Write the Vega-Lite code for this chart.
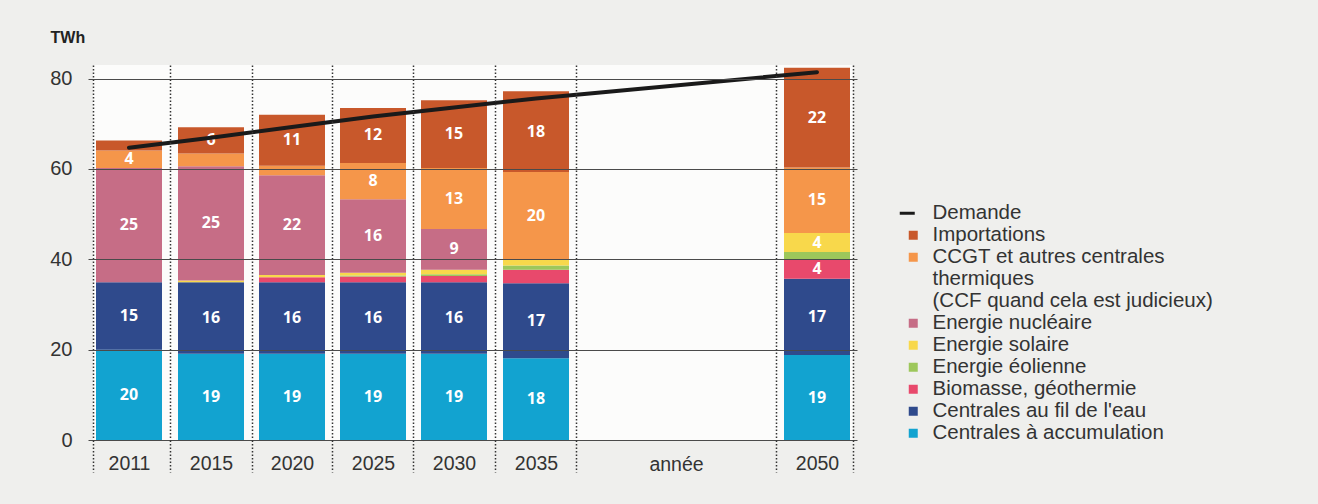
{
  "$schema": "https://vega.github.io/schema/vega-lite/v6.json",
  "width": 795,
  "height": 375,
  "autosize": {"type": "none"},
  "padding": {"left": 76, "top": 65, "right": 447, "bottom": 64},
  "background": "#efefed",
  "config": {
    "view": {"fill": null, "stroke": null},
    "font": "Liberation Sans",
    "axisY": {
      "grid": true,
      "gridColor": "#4a4a4a",
      "gridWidth": 1,
      "domain": false,
      "ticks": false,
      "tickSize": 0,
      "labelFontSize": 20,
      "labelColor": "#333333",
      "labelPadding": 4,
      "labelFont": "Liberation Sans",
      "titleAngle": 0,
      "titleAlign": "left",
      "titleBaseline": "alphabetic",
      "titleX": -26,
      "titleY": -23,
      "titleFont": "Liberation Sans",
      "titleFontSize": 16,
      "titleFontWeight": "bold",
      "titleColor": "#222222"
    }
  },
  "datasets": {
    "frame": [{"from": 2009, "to": 2052.5, "bottom": 0, "top": 83}],
    "mix": [
      {"year": 2011, "source": "Centrales à accumulation", "rank": 1, "value": 20.0, "label": "20"},
      {"year": 2011, "source": "Centrales au fil de l'eau", "rank": 2, "value": 14.9, "label": "15"},
      {"year": 2011, "source": "Energie nucléaire", "rank": 6, "value": 25.3, "label": "25"},
      {"year": 2011, "source": "CCGT et autres centrales thermiques", "rank": 7, "value": 3.9, "label": "4"},
      {"year": 2011, "source": "Importations", "rank": 8, "value": 2.2, "label": ""},
      {"year": 2015, "source": "Centrales à accumulation", "rank": 1, "value": 19.1, "label": "19"},
      {"year": 2015, "source": "Centrales au fil de l'eau", "rank": 2, "value": 15.8, "label": "16"},
      {"year": 2015, "source": "Energie solaire", "rank": 5, "value": 0.4, "label": ""},
      {"year": 2015, "source": "Energie nucléaire", "rank": 6, "value": 25.3, "label": "25"},
      {"year": 2015, "source": "CCGT et autres centrales thermiques", "rank": 7, "value": 2.8, "label": ""},
      {"year": 2015, "source": "Importations", "rank": 8, "value": 5.8, "label": "6"},
      {"year": 2020, "source": "Centrales à accumulation", "rank": 1, "value": 19.1, "label": "19"},
      {"year": 2020, "source": "Centrales au fil de l'eau", "rank": 2, "value": 15.8, "label": "16"},
      {"year": 2020, "source": "Biomasse, géothermie", "rank": 3, "value": 1.1, "label": ""},
      {"year": 2020, "source": "Energie solaire", "rank": 5, "value": 0.5, "label": ""},
      {"year": 2020, "source": "Energie nucléaire", "rank": 6, "value": 22.1, "label": "22"},
      {"year": 2020, "source": "CCGT et autres centrales thermiques", "rank": 7, "value": 2.1, "label": ""},
      {"year": 2020, "source": "Importations", "rank": 8, "value": 11.3, "label": "11"},
      {"year": 2025, "source": "Centrales à accumulation", "rank": 1, "value": 19.1, "label": "19"},
      {"year": 2025, "source": "Centrales au fil de l'eau", "rank": 2, "value": 15.8, "label": "16"},
      {"year": 2025, "source": "Biomasse, géothermie", "rank": 3, "value": 1.3, "label": ""},
      {"year": 2025, "source": "Energie éolienne", "rank": 4, "value": 0.2, "label": ""},
      {"year": 2025, "source": "Energie solaire", "rank": 5, "value": 0.6, "label": ""},
      {"year": 2025, "source": "Energie nucléaire", "rank": 6, "value": 16.3, "label": "16"},
      {"year": 2025, "source": "CCGT et autres centrales thermiques", "rank": 7, "value": 8.0, "label": "8"},
      {"year": 2025, "source": "Importations", "rank": 8, "value": 12.2, "label": "12"},
      {"year": 2030, "source": "Centrales à accumulation", "rank": 1, "value": 19.1, "label": "19"},
      {"year": 2030, "source": "Centrales au fil de l'eau", "rank": 2, "value": 15.8, "label": "16"},
      {"year": 2030, "source": "Biomasse, géothermie", "rank": 3, "value": 1.4, "label": ""},
      {"year": 2030, "source": "Energie éolienne", "rank": 4, "value": 0.4, "label": ""},
      {"year": 2030, "source": "Energie solaire", "rank": 5, "value": 1.0, "label": ""},
      {"year": 2030, "source": "Energie nucléaire", "rank": 6, "value": 9.0, "label": "9"},
      {"year": 2030, "source": "CCGT et autres centrales thermiques", "rank": 7, "value": 13.5, "label": "13"},
      {"year": 2030, "source": "Importations", "rank": 8, "value": 15.0, "label": "15"},
      {"year": 2035, "source": "Centrales à accumulation", "rank": 1, "value": 18.1, "label": "18"},
      {"year": 2035, "source": "Centrales au fil de l'eau", "rank": 2, "value": 16.6, "label": "17"},
      {"year": 2035, "source": "Biomasse, géothermie", "rank": 3, "value": 3.0, "label": ""},
      {"year": 2035, "source": "Energie éolienne", "rank": 4, "value": 0.9, "label": ""},
      {"year": 2035, "source": "Energie solaire", "rank": 5, "value": 1.3, "label": ""},
      {"year": 2035, "source": "CCGT et autres centrales thermiques", "rank": 7, "value": 19.4, "label": "20"},
      {"year": 2035, "source": "Importations", "rank": 8, "value": 17.9, "label": "18"},
      {"year": 2050, "source": "Centrales à accumulation", "rank": 1, "value": 18.8, "label": "19"},
      {"year": 2050, "source": "Centrales au fil de l'eau", "rank": 2, "value": 16.9, "label": "17"},
      {"year": 2050, "source": "Biomasse, géothermie", "rank": 3, "value": 4.3, "label": "4"},
      {"year": 2050, "source": "Energie éolienne", "rank": 4, "value": 1.6, "label": ""},
      {"year": 2050, "source": "Energie solaire", "rank": 5, "value": 4.2, "label": "4"},
      {"year": 2050, "source": "CCGT et autres centrales thermiques", "rank": 7, "value": 14.5, "label": "15"},
      {"year": 2050, "source": "Importations", "rank": 8, "value": 22.1, "label": "22"}
    ],
    "demand": [
      {"year": 2011, "demand": 64.7, "series": "Demande"},
      {"year": 2015, "demand": 66.9, "series": "Demande"},
      {"year": 2020, "demand": 69.3, "series": "Demande"},
      {"year": 2025, "demand": 71.6, "series": "Demande"},
      {"year": 2030, "demand": 73.6, "series": "Demande"},
      {"year": 2035, "demand": 75.6, "series": "Demande"},
      {"year": 2050, "demand": 81.4, "series": "Demande"}
    ]
  },
  "layer": [
    {
      "data": {"name": "frame"},
      "mark": {"type": "rect", "fill": "#fcfcfb"},
      "encoding": {
        "x": {"field": "from", "type": "quantitative", "axis": null},
        "x2": {"field": "to"},
        "y": {"field": "bottom", "type": "quantitative"},
        "y2": {"field": "top"}
      }
    },
    {
      "data": {"name": "mix"},
      "mark": {"type": "bar", "width": 66},
      "encoding": {
        "x": {
          "field": "year",
          "type": "quantitative",
          "scale": {
            "domain": [2009, 2011, 2013, 2015, 2017.5, 2020, 2022.5, 2025, 2027.5, 2030, 2032.5, 2035, 2037.5, 2047.5, 2050, 2052.5],
            "range": [12, 53, 94, 135, 176, 216, 256, 297, 337, 378, 419, 460, 500, 700, 741, 781],
            "nice": false,
            "zero": false
          },
          "axis": {
            "orient": "bottom",
            "values": [2011, 2015, 2020, 2025, 2030, 2035, 2050],
            "format": "d",
            "grid": false,
            "ticks": false,
            "tickSize": 0,
            "domain": false,
            "labelFontSize": 19.5,
            "labelColor": "#333333",
            "labelPadding": 14,
            "labelFont": "Liberation Sans",
            "title": "année",
            "titleFont": "Liberation Sans",
            "titleFontSize": 19.5,
            "titleFontWeight": "normal",
            "titleColor": "#333333",
            "titleX": 600,
            "titleY": 30,
            "titleBaseline": "alphabetic",
            "titleAlign": "center"
          }
        },
        "y": {
          "field": "value",
          "type": "quantitative",
          "stack": "zero",
          "scale": {"domain": [0, 83], "nice": false},
          "axis": {
            "orient": "left",
            "values": [0, 20, 40, 60, 80],
            "zindex": 1,
            "title": "TWh"
          }
        },
        "fill": {
          "field": "source",
          "type": "nominal",
          "scale": {
            "domain": ["Importations", "CCGT et autres centrales thermiques", "Energie nucléaire", "Energie solaire", "Energie éolienne", "Biomasse, géothermie", "Centrales au fil de l'eau", "Centrales à accumulation"],
            "range": ["#c8582b", "#f5964a", "#c66d86", "#f8d84b", "#9dc75b", "#e8496c", "#2f4a8c", "#12a3d0"]
          },
          "legend": {
            "orient": "none",
            "legendX": 827,
            "legendY": 160,
            "title": null,
            "padding": 0,
            "symbolType": "square",
            "symbolSize": 81,
            "symbolStrokeWidth": 0,
            "labelOffset": 9,
            "labelFontSize": 20.5,
            "labelFont": "Liberation Sans",
            "labelColor": "#333333",
            "labelLimit": 400,
            "rowPadding": 1,
            "labelExpr": "datum.label == 'CCGT et autres centrales thermiques' ? ['CCGT et autres centrales', 'thermiques', '(CCF quand cela est judicieux)'] : datum.label",
            "encode": {"labels": {"update": {"lineHeight": {"value": 22}}}}
          }
        },
        "order": {"field": "rank", "type": "quantitative"}
      }
    },
    {
      "data": {"name": "mix"},
      "mark": {"type": "text", "color": "#ffffff", "font": "Open Sans", "fontWeight": 700, "fontSize": 16, "align": "center", "baseline": "middle"},
      "encoding": {
        "x": {"field": "year", "type": "quantitative", "axis": null},
        "y": {"field": "value", "type": "quantitative", "stack": "zero", "bandPosition": 0.5},
        "detail": {"field": "source", "type": "nominal"},
        "order": {"field": "rank", "type": "quantitative"},
        "text": {"field": "label", "type": "nominal"}
      }
    },
    {
      "data": {"name": "demand"},
      "mark": {"type": "line", "strokeWidth": 4, "strokeCap": "round"},
      "encoding": {
        "x": {
          "field": "year",
          "type": "quantitative",
          "axis": {
            "orient": "bottom",
            "values": [2009, 2013, 2017.5, 2022.5, 2027.5, 2032.5, 2037.5, 2047.5, 2052.5],
            "labels": false,
            "domain": false,
            "grid": true,
            "gridDash": [1.5, 2],
            "gridColor": "#333333",
            "gridWidth": 1.5,
            "ticks": true,
            "tickSize": 32,
            "tickDash": [1.5, 2],
            "tickColor": "#333333",
            "tickWidth": 1.5,
            "title": null,
            "zindex": 1
          }
        },
        "y": {"field": "demand", "type": "quantitative"},
        "color": {
          "field": "series",
          "type": "nominal",
          "scale": {"domain": ["Demande"], "range": ["#1a1a1a"]},
          "legend": {
            "orient": "none",
            "legendX": 821,
            "legendY": 138,
            "title": null,
            "padding": 0,
            "symbolType": "stroke",
            "symbolSize": 225,
            "symbolStrokeWidth": 3,
            "labelOffset": 15,
            "labelFontSize": 20.5,
            "labelFont": "Liberation Sans",
            "labelColor": "#333333"
          }
        }
      }
    }
  ],
  "resolve": {"axis": {"x": "independent", "y": "shared"}}
}
